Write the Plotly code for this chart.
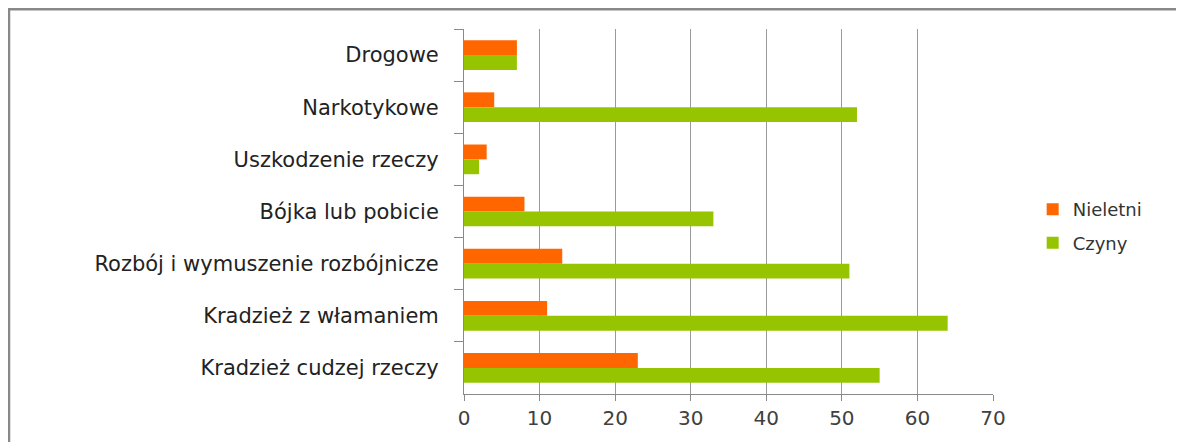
import plotly.graph_objects as go

categories = [
    "Drogowe",
    "Narkotykowe",
    "Uszkodzenie rzeczy",
    "Bójka lub pobicie",
    "Rozbój i wymuszenie rozbójnicze",
    "Kradzież z włamaniem",
    "Kradzież cudzej rzeczy",
]
nieletni = [7, 4, 3, 8, 13, 11, 23]
czyny = [7, 52, 2, 33, 51, 64, 55]
x_ticks = [0, 10, 20, 30, 40, 50, 60, 70]

FONT = "DejaVu Sans"

fig = go.Figure()
fig.add_trace(go.Bar(
    y=categories, x=nieletni, name="Nieletni", orientation="h",
    marker=dict(color="#FF6600", line=dict(width=0)), legendgroup="a",
))
fig.add_trace(go.Bar(
    y=categories, x=czyny, name="Czyny", orientation="h",
    marker=dict(color="#96C400", line=dict(width=0)), legendgroup="b",
))

# page body has an 8px default margin, so figure coords = screen coords - 8
OFF = 8
W, H = 1184 - OFF, 442 - OFF
L, R, T, B = 464 - OFF, 993 - OFF, 29 - OFF, 397 - OFF

fig.update_layout(
    width=W, height=H,
    margin=dict(l=L, r=W - R, t=T, b=H - B, pad=0),
    paper_bgcolor="white", plot_bgcolor="white",
    barmode="group", bargap=0.43, bargroupgap=0,
    font=dict(family=FONT, size=18, color="#222222"),
    legend=dict(
        x=1.075, y=0.46, xanchor="left", yanchor="middle",
        font=dict(family=FONT, size=18, color="#333333"),
        tracegroupgap=7, traceorder="grouped",
        bgcolor="rgba(0,0,0,0)",
    ),
    xaxis=dict(
        range=[0, 70], tickvals=x_ticks, ticktext=[str(v) for v in x_ticks],
        showgrid=True, gridcolor="#9a9a9a", gridwidth=1,
        showline=True, linecolor="#8a8a8a", linewidth=1,
        ticks="outside", ticklen=6, tickcolor="#8a8a8a",
        tickfont=dict(family=FONT, size=20, color="#404040"),
        zeroline=False, fixedrange=True,
    ),
    yaxis=dict(
        categoryorder="array", categoryarray=categories,
        autorange="reversed",
        showgrid=False, showline=True, linecolor="#8a8a8a", linewidth=1,
        ticks="outside", ticklen=9, tickcolor="#8a8a8a", tickson="boundaries",
        tickfont=dict(family=FONT, size=21, color="#222222"),
        ticklabelstandoff=20,
        zeroline=False, fixedrange=True,
    ),
    showlegend=True,
)

pw, ph = R - L, B - T
fig.add_shape(
    type="rect", xref="paper", yref="paper",
    x0=(1 - L) / pw, x1=(W + 20 - L) / pw,
    y0=(B - (H + 20)) / ph, y1=(B - 1) / ph,
    line=dict(color="#888888", width=2.5), fillcolor="rgba(0,0,0,0)",
    layer="below",
)

fig.write_html("out.html")
